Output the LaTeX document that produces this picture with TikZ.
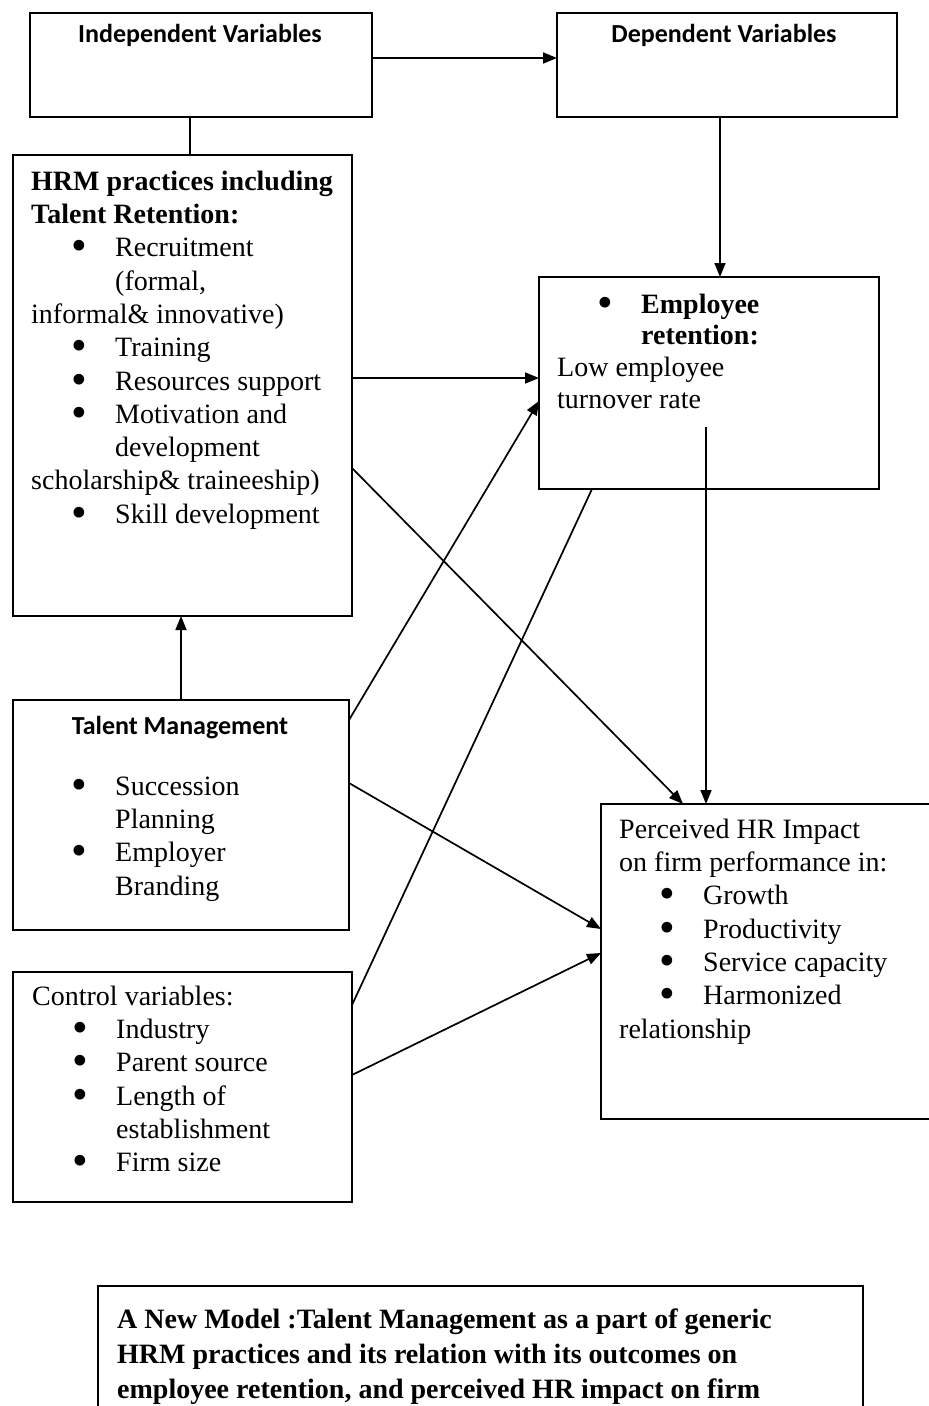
\documentclass[tikz,border=0pt]{standalone}
\usepackage{fontspec}
\setmainfont{Liberation Serif}
\newfontfamily\headfont{Carlito}
\usetikzlibrary{arrows.meta,calc}

\newcommand{\bul}{\makebox[84pt][l]{\hspace*{40pt}\smash{\raisebox{-4pt}{\scalebox{1.6}{\textbullet}}}}}
\newcommand{\ind}{\hspace*{84pt}}
\newcommand{\fst}{\rule{0pt}{20pt}}

\begin{document}
\begin{tikzpicture}[x=1pt,y=-1pt]
    \tikzset{
        box/.style={draw, line width=1.5pt, inner sep=0pt, outer sep=0pt},
        txt/.style={anchor=north west, inner sep=0pt, align=left, font=\fontsize{28}{33.3}\selectfont},
        head/.style={anchor=base, inner sep=0pt, font=\headfont\bfseries\fontsize{26}{30}\selectfont},
        arr/.style={line width=1.7pt, -{Triangle[length=14pt,width=11pt]}},
        link/.style={line width=1.7pt}
    }
    \useasboundingbox (0,0) rectangle (929,1406);
    \fill[white] (0,0) rectangle (929,1406);

    % boxes
    \node[box, minimum width=342pt, minimum height=104pt] (indep) at (201,65) {};
    \node[box, minimum width=340pt, minimum height=104pt] (dep) at (727,65) {};
    \node[box, minimum width=339pt, minimum height=461pt] (hrm) at (182.5,385.5) {};
    \node[box, minimum width=340pt, minimum height=212pt] (ret) at (709,383) {};
    \node[box, minimum width=336pt, minimum height=230pt] (tm) at (181,815) {};
    \node[box, minimum width=339pt, minimum height=230pt] (ctrl) at (182.5,1087) {};
    \node[box, minimum width=340pt, minimum height=315pt] (perc) at (771,961.5) {};
    \node[box, minimum width=765pt, minimum height=144pt] (capt) at (480.5,1358) {};

    % headings
    \node[head] (indeptxt) at (200,42) {Independent Variables};
    \node[head] (deptxt) at (724,42) {Dependent Variables};
    \node[head] (tmtxt) at (180,734) {Talent Management};

    % box texts
    \node[txt] (hrmtxt) at (31,170) {\fst\textbf{HRM practices including}\\
        \textbf{Talent Retention:}\\
        \bul Recruitment\\
        \ind(formal,\\
        informal\& innovative)\\
        \bul Training\\
        \bul Resources support\\
        \bul Motivation and\\
        \ind development\\
        scholarship\& traineeship)\\
        \bul Skill development};
    \node[txt, font=\fontsize{28}{31.7}\selectfont] (rettxt) at (557,293) {\fst\bul\textbf{Employee}\\
        \ind\textbf{retention:}\\
        Low employee\\
        turnover rate};
    \node[txt] (tmlist) at (31,775) {\fst\bul Succession\\
        \ind Planning\\
        \bul Employer\\
        \ind Branding};
    \node[txt] (ctrltxt) at (32,985) {\fst Control variables:\\
        \bul Industry\\
        \bul Parent source\\
        \bul Length of\\
        \ind establishment\\
        \bul Firm size};
    \node[txt] (perctxt) at (619,818) {\fst Perceived HR Impact\\
        on firm performance in:\\
        \bul Growth\\
        \bul Productivity\\
        \bul Service capacity\\
        \bul Harmonized\\
        relationship};
    \node[txt, font=\bfseries\fontsize{28}{35}\selectfont] (capttxt) at (117,1308) {\fst A New Model :Talent Management as a part of generic\\
        HRM practices and its relation with its outcomes on\\
        employee retention, and perceived HR impact on firm\\
        performance};

    % connectors
    \coordinate (retmid) at (706,427);
    \draw[arr] (indep.east |- 0,58) -- (dep.west |- 0,58);
    \draw[link] (indep.south -| 190,0) -- (hrm.north -| 190,0);
    \draw[arr] (dep.south -| 720,0) -- (ret.north -| 720,0);
    \draw[arr] (hrm.east |- 0,378) -- (ret.west |- 0,378);
    \draw[arr] (tm.east |- 0,720) -- (ret.west |- 0,401);
    \draw[arr] (hrm.east |- 0,468) -- (perc.north -| 683,0);
    \draw[link] (ctrl.east |- 0,1005) -- (ret.south -| 592,0);
    \draw[arr] (retmid) -- (perc.north -| 706,0);
    \draw[arr] (tm.east |- 0,783) -- (perc.west |- 0,929);
    \draw[arr] (ctrl.east |- 0,1075) -- (perc.west |- 0,953);
    \draw[arr] (tm.north -| 181,0) -- (hrm.south -| 181,0);
\end{tikzpicture}
\end{document}
